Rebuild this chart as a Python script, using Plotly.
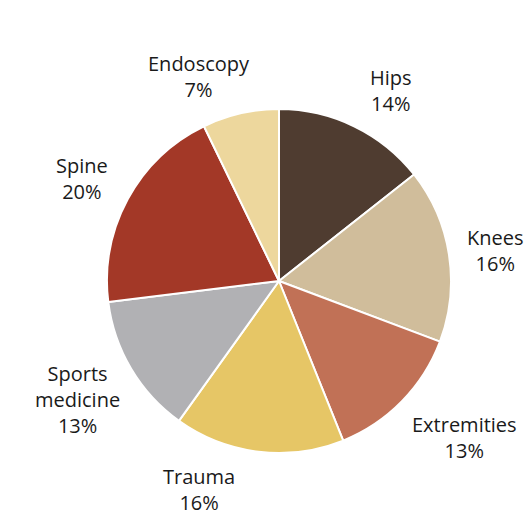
import math
import plotly.graph_objects as go

# ---- data ----
categories = ["Hips", "Knees", "Extremities", "Trauma", "Sports<br>medicine", "Spine", "Endoscopy"]
values = [14.4, 16.4, 13.2, 16.0, 13.2, 19.8, 7.2]
pct_labels = ["14%", "16%", "13%", "16%", "13%", "20%", "7%"]

# ---- style / layout ----
colors = ["#4F3C30", "#D0BD9B", "#C17156", "#E6C666", "#B1B1B4", "#A33827", "#EDD79D"]
# label placement around the pie: (angle clockwise from 12 o'clock in degrees, distance from centre in px)
label_pos = [(30.5, 220.6), (81.9, 218.7), (130.1, 242.4), (201.0, 222.9),
             (239.7, 233.9), (297.5, 221.6), (338.7, 219.0)]

OFF = 8  # default page body margin
W, H = 532 - OFF, 518 - OFF
cx, cy, r = 279 - OFF, 281 - OFF, 172

fig = go.Figure(go.Pie(
    labels=categories, values=values, sort=False, direction="clockwise", rotation=0,
    marker=dict(colors=colors, line=dict(color="white", width=2)),
    textinfo="none", hoverinfo="label+percent", showlegend=False,
    domain=dict(x=[(cx - r) / W, (cx + r) / W], y=[1 - (cy + r) / H, 1 - (cy - r) / H]),
))

annotations = []
for cat, p, (ang, dist) in zip(categories, pct_labels, label_pos):
    a = math.radians(ang)
    px = cx + dist * math.sin(a)
    py = cy - dist * math.cos(a)
    annotations.append(dict(
        x=px / W, y=1 - py / H, xref="paper", yref="paper",
        text=f"{cat}<br>{p}", showarrow=False, xanchor="center", yanchor="middle",
        font=dict(family="Open Sans", size=20, color="#1a1a1a"),
    ))

fig.update_layout(
    width=W, height=H, margin=dict(l=0, r=0, t=0, b=0),
    paper_bgcolor="white", plot_bgcolor="white", annotations=annotations,
)
fig.write_html("out.html")
